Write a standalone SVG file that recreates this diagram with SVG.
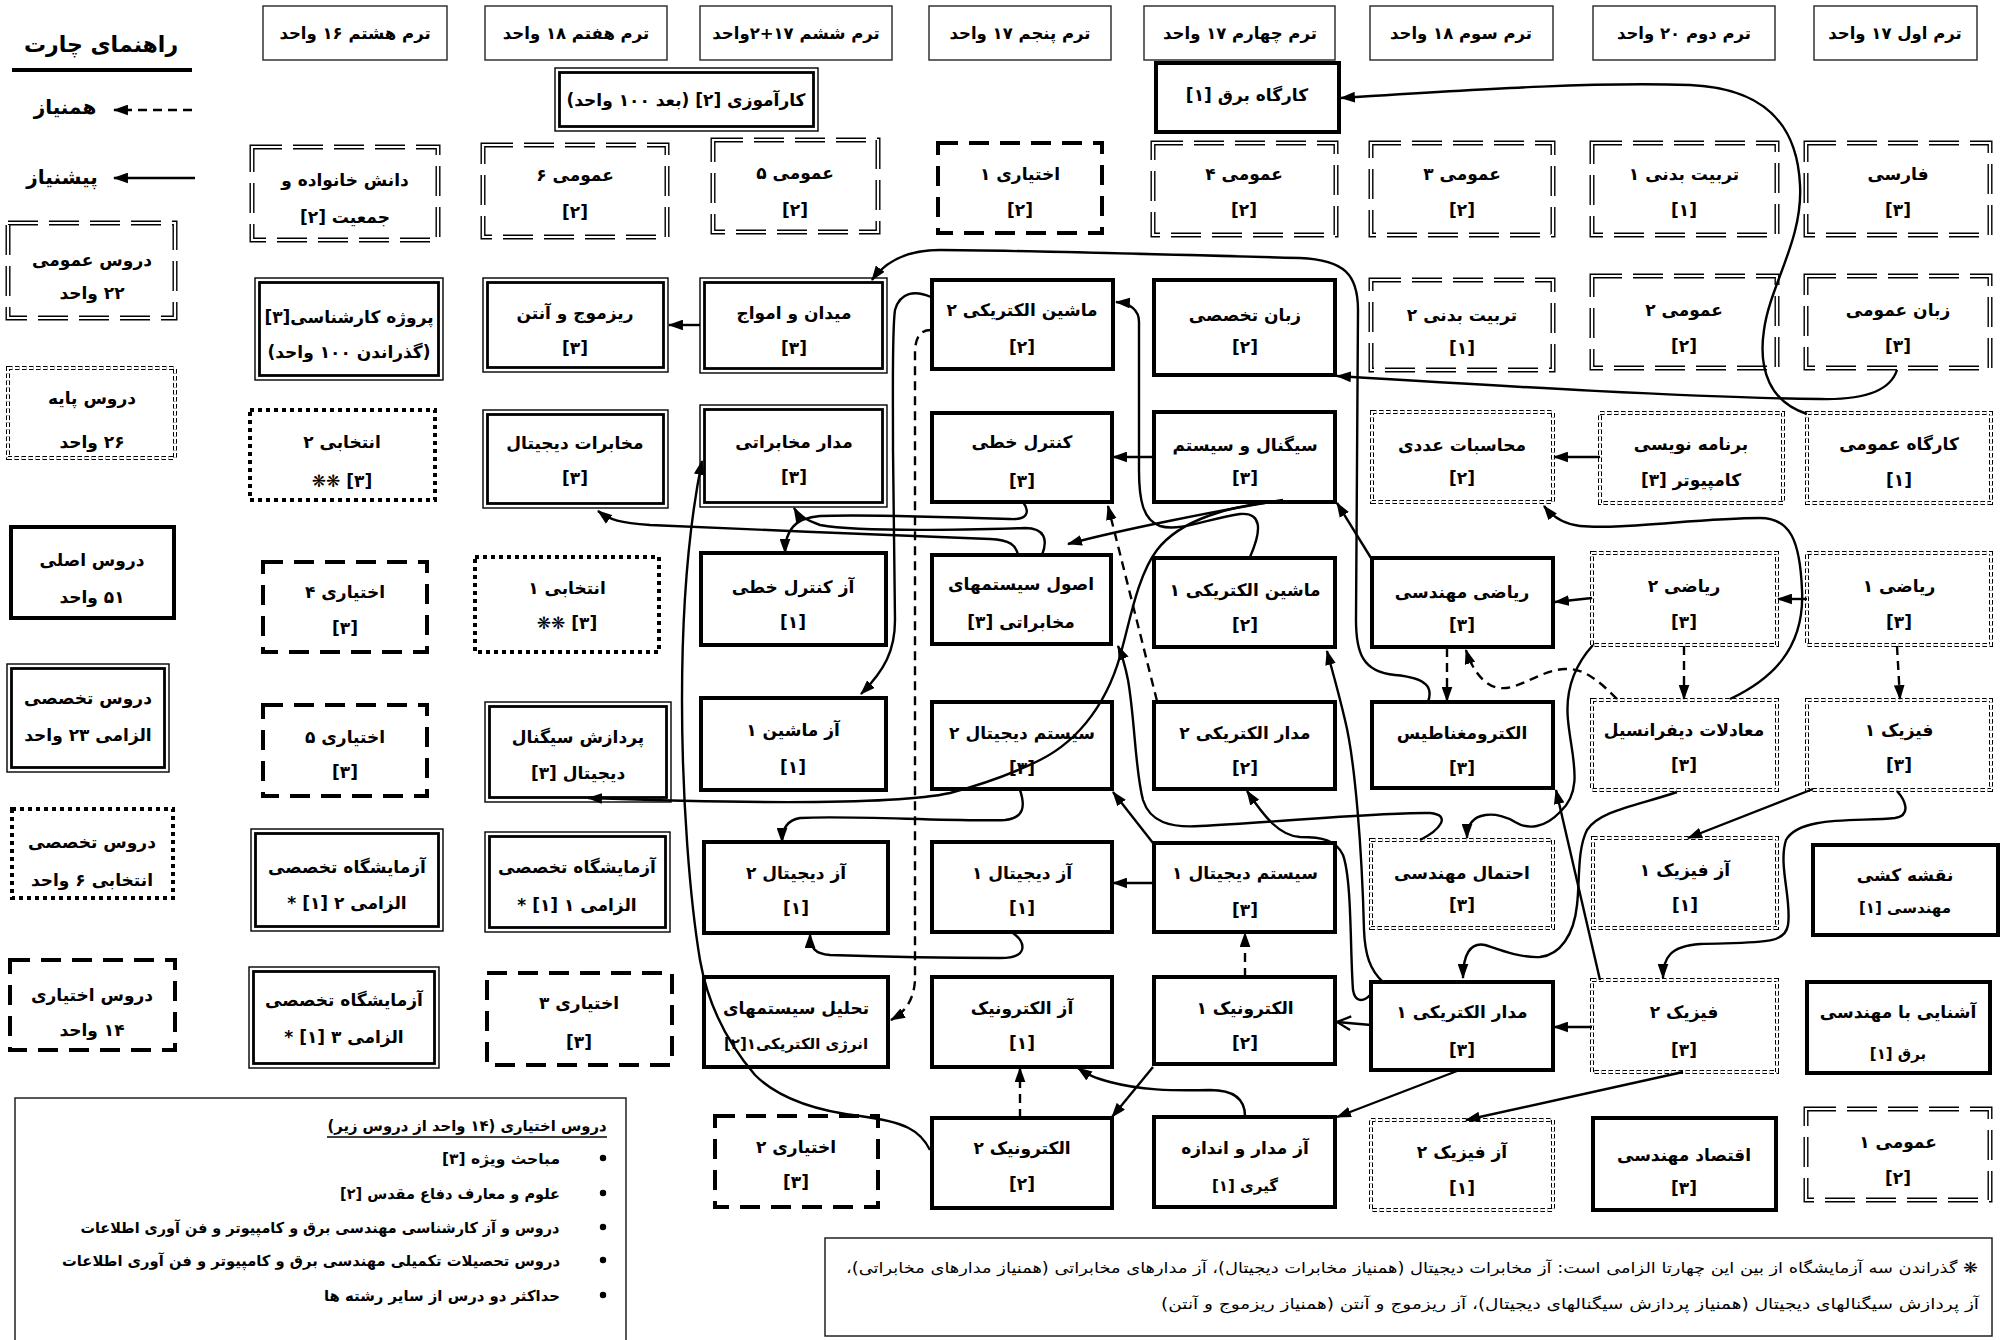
<svg xmlns="http://www.w3.org/2000/svg" width="2011" height="1340" viewBox="0 0 2011 1340">
<style>
text{font-family:"DejaVu Sans",sans-serif;font-weight:bold;direction:rtl;fill:#000}
.t{font-size:17px;text-anchor:middle}
.s{font-size:15px;text-anchor:middle}
.h{font-size:16.5px;text-anchor:middle}
.lg{font-size:17px;text-anchor:middle}
.n{font-size:15px;font-weight:normal;text-anchor:middle}
.hdr{fill:#fff;stroke:#333;stroke-width:1.5}
.main{fill:#fff;stroke:#000;stroke-width:4}
.spo{fill:#fff;stroke:#000;stroke-width:1.4}
.spi{fill:none;stroke:#000;stroke-width:2.8}
.gb{fill:#fff;stroke:#000;stroke-width:5;stroke-dasharray:30 11}
.gw{fill:none;stroke:#fff;stroke-width:2.2;stroke-dasharray:30 11}
.bb{fill:#fff;stroke:#000;stroke-width:4;stroke-dasharray:4.5 2.5}
.bw{fill:none;stroke:#fff;stroke-width:2;stroke-dasharray:4.5 2.5}
.sel{fill:#fff;stroke:#000;stroke-width:4;stroke-dasharray:4 4}
.ele{fill:#fff;stroke:#000;stroke-width:4;stroke-dasharray:20 11}
.e{fill:none;stroke:#000;stroke-width:2.4;marker-end:url(#ar)}
.d{stroke-dasharray:9 6}
.o{marker-end:url(#ao)}
.box{fill:#fff;stroke:#222;stroke-width:1.5}
</style>
<defs>
<marker id="ar" viewBox="0 0 14 10" refX="13" refY="5" markerWidth="15" markerHeight="11" markerUnits="userSpaceOnUse" orient="auto"><path d="M0,0 L14,5 L0,10 z" fill="#000"/></marker>
<marker id="ao" viewBox="0 0 14 14" refX="13" refY="7" markerWidth="16" markerHeight="16" markerUnits="userSpaceOnUse" orient="auto"><path d="M1,1 L13,7 L1,13" fill="none" stroke="#000" stroke-width="2"/></marker>
</defs>
<rect x="0" y="0" width="2011" height="1340" fill="#fff"/>

<!-- Legend -->
<g id="legend">
<text x="101" y="52" style="font-size:22px;text-anchor:middle">راهنمای چارت</text>
<line x1="12" y1="70" x2="192" y2="70" stroke="#000" stroke-width="4"/>
<text x="65" y="114" style="font-size:20px;text-anchor:middle">همنیاز</text>
<path d="M192,110 L114,110" class="e d"/>
<text x="62" y="184" style="font-size:20px;text-anchor:middle">پیشنیاز</text>
<path d="M195,178 L114,178" class="e"/>
<g id="lg-general"><rect class="gb" x="8" y="223" width="167" height="95"/><rect class="gw" x="8" y="223" width="167" height="95"/><text class="lg" x="92" y="266">دروس عمومی</text><text class="lg" x="92" y="299">۲۲ واحد</text></g>
<g id="lg-basic"><rect class="bb" x="8" y="368" width="167" height="90"/><rect class="bw" x="8" y="368" width="167" height="90"/><text class="lg" x="92" y="404">دروس پایه</text><text class="lg" x="92" y="448">۲۶ واحد</text></g>
<g id="lg-main"><rect class="main" x="11" y="527" width="163" height="91"/><text class="lg" x="92" y="566">دروس اصلی</text><text class="lg" x="92" y="603">۵۱ واحد</text></g>
<g id="lg-spec"><rect class="spo" x="7" y="664" width="162" height="108"/><rect class="spi" x="11.5" y="668.5" width="153" height="99"/><text class="lg" x="88" y="704">دروس تخصصی</text><text class="lg" x="88" y="741">الزامی ۲۳ واحد</text></g>
<g id="lg-select"><rect class="sel" x="12" y="809" width="161" height="89"/><text class="lg" x="92" y="848">دروس تخصصی</text><text class="lg" x="92" y="886">انتخابی ۶ واحد</text></g>
<g id="lg-elective"><rect class="ele" x="10" y="960" width="165" height="90"/><text class="lg" x="92" y="1001">دروس اختیاری</text><text class="lg" x="92" y="1036">۱۴ واحد</text></g>
</g>

<!-- Term headers -->
<g id="terms">
<g id="term8"><rect class="hdr" x="263" y="6" width="184" height="54"/><text class="h" x="355" y="39">ترم هشتم ۱۶ واحد</text></g>
<g id="term7"><rect class="hdr" x="485" y="6" width="182" height="54"/><text class="h" x="576" y="39">ترم هفتم ۱۸ واحد</text></g>
<g id="term6"><rect class="hdr" x="700" y="6" width="192" height="54"/><text class="h" x="796" y="39">ترم ششم ۱۷+۲واحد</text></g>
<g id="term5"><rect class="hdr" x="929" y="6" width="182" height="54"/><text class="h" x="1020" y="39">ترم پنجم ۱۷ واحد</text></g>
<g id="term4"><rect class="hdr" x="1144" y="6" width="191" height="54"/><text class="h" x="1240" y="39">ترم چهارم ۱۷ واحد</text></g>
<g id="term3"><rect class="hdr" x="1370" y="6" width="183" height="54"/><text class="h" x="1461" y="39">ترم سوم ۱۸ واحد</text></g>
<g id="term2"><rect class="hdr" x="1593" y="6" width="182" height="54"/><text class="h" x="1684" y="39">ترم دوم ۲۰ واحد</text></g>
<g id="term1"><rect class="hdr" x="1814" y="6" width="163" height="54"/><text class="h" x="1895" y="39">ترم اول ۱۷ واحد</text></g>
</g>

<!-- Column 1 -->
<g id="n-farsi"><rect class="gb" x="1806" y="143" width="184" height="92"/><rect class="gw" x="1806" y="143" width="184" height="92"/><text class="t" x="1898" y="180">فارسی</text><text class="t" x="1898" y="216">[۳]</text></g>
<g id="n-zaban-omoomi"><rect class="gb" x="1806" y="276" width="184" height="92"/><rect class="gw" x="1806" y="276" width="184" height="92"/><text class="t" x="1898" y="316">زبان عمومی</text><text class="t" x="1898" y="352">[۳]</text></g>
<g id="n-kargah-omoomi"><rect class="bb" x="1807" y="413" width="184" height="90"/><rect class="bw" x="1807" y="413" width="184" height="90"/><text class="t" x="1899" y="450">کارگاه عمومی</text><text class="t" x="1899" y="486">[۱]</text></g>
<g id="n-riazi1"><rect class="bb" x="1807" y="553" width="184" height="92"/><rect class="bw" x="1807" y="553" width="184" height="92"/><text class="t" x="1899" y="592">ریاضی ۱</text><text class="t" x="1899" y="628">[۳]</text></g>
<g id="n-fizik1"><rect class="bb" x="1807" y="700" width="184" height="90"/><rect class="bw" x="1807" y="700" width="184" height="90"/><text class="t" x="1899" y="736">فیزیک ۱</text><text class="t" x="1899" y="771">[۳]</text></g>
<g id="n-naghshe"><rect class="main" x="1813" y="845" width="185" height="90"/><text class="t" x="1905" y="881">نقشه کشی</text><text class="s" x="1905" y="913">مهندسی [۱]</text></g>
<g id="n-ashnaei"><rect class="main" x="1807" y="982" width="183" height="91"/><text class="t" x="1898" y="1018">آشنایی با مهندسی</text><text class="s" x="1898" y="1059">برق [۱]</text></g>
<g id="n-omoomi1"><rect class="gb" x="1806" y="1109" width="184" height="91"/><rect class="gw" x="1806" y="1109" width="184" height="91"/><text class="t" x="1898" y="1148">عمومی ۱</text><text class="t" x="1898" y="1184">[۲]</text></g>

<!-- Column 2 -->
<g id="n-tarbiat1"><rect class="gb" x="1592" y="143" width="185" height="92"/><rect class="gw" x="1592" y="143" width="185" height="92"/><text class="t" x="1684" y="180">تربیت بدنی ۱</text><text class="t" x="1684" y="216">[۱]</text></g>
<g id="n-omoomi2"><rect class="gb" x="1592" y="276" width="185" height="92"/><rect class="gw" x="1592" y="276" width="185" height="92"/><text class="t" x="1684" y="316">عمومی ۲</text><text class="t" x="1684" y="352">[۲]</text></g>
<g id="n-barname"><rect class="bb" x="1600" y="413" width="183" height="90"/><rect class="bw" x="1600" y="413" width="183" height="90"/><text class="t" x="1691" y="450">برنامه نویسی</text><text class="t" x="1691" y="486">کامپیوتر [۳]</text></g>
<g id="n-riazi2"><rect class="bb" x="1592" y="553" width="185" height="92"/><rect class="bw" x="1592" y="553" width="185" height="92"/><text class="t" x="1684" y="592">ریاضی ۲</text><text class="t" x="1684" y="628">[۳]</text></g>
<g id="n-moadelat"><rect class="bb" x="1592" y="700" width="185" height="90"/><rect class="bw" x="1592" y="700" width="185" height="90"/><text class="t" x="1684" y="736">معادلات دیفرانسیل</text><text class="t" x="1684" y="771">[۳]</text></g>
<g id="n-azfizik1"><rect class="bb" x="1593" y="838" width="184" height="90"/><rect class="bw" x="1593" y="838" width="184" height="90"/><text class="t" x="1685" y="876">آز فیزیک ۱</text><text class="t" x="1685" y="911">[۱]</text></g>
<g id="n-fizik2"><rect class="bb" x="1592" y="980" width="185" height="92"/><rect class="bw" x="1592" y="980" width="185" height="92"/><text class="t" x="1684" y="1018">فیزیک ۲</text><text class="t" x="1684" y="1056">[۳]</text></g>
<g id="n-eghtesad"><rect class="main" x="1593" y="1118" width="183" height="92"/><text class="t" x="1684" y="1161">اقتصاد مهندسی</text><text class="t" x="1684" y="1194">[۳]</text></g>

<!-- Column 3 -->
<g id="n-omoomi3"><rect class="gb" x="1371" y="143" width="182" height="92"/><rect class="gw" x="1371" y="143" width="182" height="92"/><text class="t" x="1462" y="180">عمومی ۳</text><text class="t" x="1462" y="216">[۲]</text></g>
<g id="n-tarbiat2"><rect class="gb" x="1371" y="280" width="182" height="90"/><rect class="gw" x="1371" y="280" width="182" height="90"/><text class="t" x="1462" y="321">تربیت بدنی ۲</text><text class="t" x="1462" y="354">[۱]</text></g>
<g id="n-mohasebat"><rect class="bb" x="1372" y="412" width="181" height="90"/><rect class="bw" x="1372" y="412" width="181" height="90"/><text class="t" x="1462" y="451">محاسبات عددی</text><text class="t" x="1462" y="484">[۲]</text></g>
<g id="n-riazi-mohandesi"><rect class="main" x="1372" y="558" width="181" height="89"/><text class="t" x="1462" y="598">ریاضی مهندسی</text><text class="t" x="1462" y="631">[۳]</text></g>
<g id="n-electromag"><rect class="main" x="1372" y="702" width="181" height="86"/><text class="t" x="1462" y="739">الکترومغناطیس</text><text class="t" x="1462" y="774">[۳]</text></g>
<g id="n-ehtemal"><rect class="bb" x="1371" y="840" width="182" height="88"/><rect class="bw" x="1371" y="840" width="182" height="88"/><text class="t" x="1462" y="879">احتمال مهندسی</text><text class="t" x="1462" y="911">[۳]</text></g>
<g id="n-madar1"><rect class="main" x="1371" y="982" width="182" height="88"/><text class="t" x="1462" y="1018">مدار الکتریکی ۱</text><text class="t" x="1462" y="1056">[۳]</text></g>
<g id="n-azfizik2"><rect class="bb" x="1371" y="1120" width="182" height="90"/><rect class="bw" x="1371" y="1120" width="182" height="90"/><text class="t" x="1462" y="1158">آز فیزیک ۲</text><text class="t" x="1462" y="1194">[۱]</text></g>

<!-- Column 4 -->
<g id="n-kargah-bargh"><rect class="main" x="1156" y="63" width="183" height="69"/><text class="t" x="1247" y="101">کارگاه برق  [۱]</text></g>
<g id="n-omoomi4"><rect class="gb" x="1153" y="143" width="183" height="92"/><rect class="gw" x="1153" y="143" width="183" height="92"/><text class="t" x="1244" y="180">عمومی ۴</text><text class="t" x="1244" y="216">[۲]</text></g>
<g id="n-zaban-takhassosi"><rect class="main" x="1154" y="280" width="181" height="95"/><text class="t" x="1245" y="321">زبان تخصصی</text><text class="t" x="1245" y="353">[۲]</text></g>
<g id="n-signal"><rect class="main" x="1154" y="412" width="181" height="90"/><text class="t" x="1245" y="451">سیگنال و سیستم</text><text class="t" x="1245" y="484">[۳]</text></g>
<g id="n-mashin1"><rect class="main" x="1154" y="558" width="181" height="89"/><text class="t" x="1245" y="596">ماشین الکتریکی ۱</text><text class="t" x="1245" y="631">[۲]</text></g>
<g id="n-madar2"><rect class="main" x="1154" y="702" width="181" height="87"/><text class="t" x="1245" y="739">مدار الکتریکی ۲</text><text class="t" x="1245" y="774">[۲]</text></g>
<g id="n-digital1"><rect class="main" x="1154" y="843" width="181" height="89"/><text class="t" x="1245" y="879">سیستم دیجیتال ۱</text><text class="t" x="1245" y="916">[۳]</text></g>
<g id="n-electronic1"><rect class="main" x="1154" y="977" width="181" height="87"/><text class="t" x="1245" y="1014">الکترونیک ۱</text><text class="t" x="1245" y="1049">[۲]</text></g>
<g id="n-azmadar"><rect class="main" x="1154" y="1117" width="181" height="90"/><text class="t" x="1245" y="1154">آز مدار و اندازه</text><text class="s" x="1245" y="1191">گیری [۱]</text></g>

<!-- Column 5 -->
<g id="n-ekhtiari1"><rect class="ele" x="938" y="143" width="164" height="90"/><text class="t" x="1020" y="180">اختیاری ۱</text><text class="t" x="1020" y="216">[۲]</text></g>
<g id="n-mashin2"><rect class="main" x="932" y="280" width="181" height="89"/><text class="t" x="1022" y="316">ماشین الکتریکی ۲</text><text class="t" x="1022" y="353">[۲]</text></g>
<g id="n-control"><rect class="main" x="932" y="413" width="180" height="89"/><text class="t" x="1022" y="448">کنترل خطی</text><text class="t" x="1022" y="487">[۳]</text></g>
<g id="n-osool"><rect class="main" x="932" y="555" width="179" height="89"/><text class="t" x="1021" y="590">اصول سیستمهای</text><text class="t" x="1021" y="628">مخابراتی [۳]</text></g>
<g id="n-digital2"><rect class="main" x="932" y="702" width="180" height="87"/><text class="t" x="1022" y="739">سیستم دیجیتال ۲</text><text class="t" x="1022" y="774">[۳]</text></g>
<g id="n-azdigital1"><rect class="main" x="932" y="842" width="180" height="90"/><text class="t" x="1022" y="879">آز دیجیتال ۱</text><text class="t" x="1022" y="914">[۱]</text></g>
<g id="n-azelectronic"><rect class="main" x="932" y="977" width="180" height="90"/><text class="t" x="1022" y="1014">آز الکترونیک</text><text class="t" x="1022" y="1049">[۱]</text></g>
<g id="n-electronic2"><rect class="main" x="932" y="1118" width="180" height="90"/><text class="t" x="1022" y="1154">الکترونیک ۲</text><text class="t" x="1022" y="1190">[۲]</text></g>

<!-- Column 6 -->
<g id="n-karamoozi"><rect class="spo" x="555" y="68" width="263" height="63"/><rect class="spi" x="559.5" y="72.5" width="254" height="54"/><text class="t" x="686" y="106">کارآموزی [۲] (بعد ۱۰۰ واحد)</text></g>
<g id="n-omoomi5"><rect class="gb" x="713" y="140" width="165" height="92"/><rect class="gw" x="713" y="140" width="165" height="92"/><text class="t" x="795" y="179">عمومی ۵</text><text class="t" x="795" y="216">[۲]</text></g>
<g id="n-meydan"><rect class="spo" x="700" y="278" width="187" height="95"/><rect class="spi" x="704.5" y="282.5" width="178" height="86"/><text class="t" x="794" y="319">میدان و امواج</text><text class="t" x="794" y="354">[۳]</text></g>
<g id="n-madar-mokhaberati"><rect class="spo" x="700" y="405" width="187" height="102"/><rect class="spi" x="704.5" y="409.5" width="178" height="93"/><text class="t" x="794" y="448">مدار مخابراتی</text><text class="t" x="794" y="483">[۳]</text></g>
<g id="n-azcontrol"><rect class="main" x="701" y="553" width="185" height="92"/><text class="t" x="793" y="593">آز کنترل خطی</text><text class="t" x="793" y="628">[۱]</text></g>
<g id="n-azmashin1"><rect class="main" x="701" y="698" width="185" height="92"/><text class="t" x="793" y="736">آز ماشین ۱</text><text class="t" x="793" y="773">[۱]</text></g>
<g id="n-azdigital2"><rect class="main" x="704" y="842" width="184" height="91"/><text class="t" x="796" y="879">آز دیجیتال ۲</text><text class="t" x="796" y="914">[۱]</text></g>
<g id="n-energy"><rect class="main" x="704" y="977" width="184" height="90"/><text class="t" x="796" y="1014">تحلیل سیستمهای</text><text class="s" x="796" y="1049">انرژی الکتریکی۱[۲]</text></g>
<g id="n-ekhtiari2"><rect class="ele" x="715" y="1116" width="163" height="91"/><text class="t" x="796" y="1153">اختیاری ۲</text><text class="t" x="796" y="1188">[۳]</text></g>

<!-- Column 7 -->
<g id="n-omoomi6"><rect class="gb" x="483" y="145" width="184" height="92"/><rect class="gw" x="483" y="145" width="184" height="92"/><text class="t" x="575" y="181">عمومی ۶</text><text class="t" x="575" y="218">[۲]</text></g>
<g id="n-rizmoj"><rect class="spo" x="483" y="278" width="185" height="94"/><rect class="spi" x="487.5" y="282.5" width="176" height="85"/><text class="t" x="575" y="319">ریزموج و آنتن</text><text class="t" x="575" y="354">[۳]</text></g>
<g id="n-mokhaberat-digital"><rect class="spo" x="483" y="410" width="185" height="98"/><rect class="spi" x="487.5" y="414.5" width="176" height="89"/><text class="t" x="575" y="449">مخابرات دیجیتال</text><text class="t" x="575" y="484">[۳]</text></g>
<g id="n-entekhabi1"><rect class="sel" x="475" y="557" width="184" height="95"/><text class="t" x="567" y="594">انتخابی ۱</text><text class="t" x="567" y="629">[۳] ❋❋</text></g>
<g id="n-pardazesh"><rect class="spo" x="485" y="702" width="186" height="100"/><rect class="spi" x="489.5" y="706.5" width="177" height="91"/><text class="t" x="578" y="743">پردازش سیگنال</text><text class="t" x="578" y="779">دیجیتال [۳]</text></g>
<g id="n-lab1"><rect class="spo" x="485" y="832" width="185" height="100"/><rect class="spi" x="489.5" y="836.5" width="176" height="91"/><text class="t" x="577" y="873">آزمایشگاه تخصصی</text><text class="t" x="577" y="911">الزامی ۱ [۱] *</text></g>
<g id="n-ekhtiari3"><rect class="ele" x="487" y="973" width="185" height="92"/><text class="t" x="579" y="1009">اختیاری ۳</text><text class="t" x="579" y="1048">[۳]</text></g>

<!-- Column 8 -->
<g id="n-danesh"><rect class="gb" x="252" y="147" width="186" height="93"/><rect class="gw" x="252" y="147" width="186" height="93"/><text class="t" x="345" y="186">دانش خانواده و</text><text class="t" x="345" y="223">جمعیت [۲]</text></g>
<g id="n-project"><rect class="spo" x="255" y="278" width="188" height="102"/><rect class="spi" x="259.5" y="282.5" width="179" height="93"/><text class="t" x="349" y="323">پروژه کارشناسی[۳]</text><text class="t" x="349" y="358">(گذراندن ۱۰۰ واحد)</text></g>
<g id="n-entekhabi2"><rect class="sel" x="250" y="410" width="185" height="90"/><text class="t" x="342" y="448">انتخابی ۲</text><text class="t" x="342" y="487">[۳] ❋❋</text></g>
<g id="n-ekhtiari4"><rect class="ele" x="263" y="562" width="164" height="90"/><text class="t" x="345" y="598">اختیاری ۴</text><text class="t" x="345" y="634">[۳]</text></g>
<g id="n-ekhtiari5"><rect class="ele" x="263" y="705" width="164" height="91"/><text class="t" x="345" y="743">اختیاری ۵</text><text class="t" x="345" y="778">[۳]</text></g>
<g id="n-lab2"><rect class="spo" x="251" y="829" width="192" height="102"/><rect class="spi" x="255.5" y="833.5" width="183" height="93"/><text class="t" x="347" y="873">آزمایشگاه تخصصی</text><text class="t" x="347" y="909">الزامی ۲ [۱] *</text></g>
<g id="n-lab3"><rect class="spo" x="249" y="967" width="190" height="101"/><rect class="spi" x="253.5" y="971.5" width="181" height="92"/><text class="t" x="344" y="1006">آزمایشگاه تخصصی</text><text class="t" x="344" y="1043">الزامی ۳ [۱] *</text></g>

<!-- Bottom notes -->
<g id="electives-list">
<rect class="box" x="15" y="1098" width="611" height="250"/>
<text x="467" y="1131" style="font-size:15px;text-anchor:middle" textLength="279" lengthAdjust="spacingAndGlyphs">دروس اختیاری (۱۴ واحد از دروس زیر)</text>
<line x1="327" y1="1137" x2="607" y2="1137" stroke="#000" stroke-width="1.3"/>
<circle cx="603" cy="1158" r="3.2"/><text x="501" y="1164" style="font-size:15px;text-anchor:middle" textLength="118" lengthAdjust="spacingAndGlyphs">مباحث ویژه [۳]</text>
<circle cx="603" cy="1193" r="3.2"/><text x="450" y="1199" style="font-size:15px;text-anchor:middle" textLength="220" lengthAdjust="spacingAndGlyphs">علوم و معارف دفاع مقدس [۲]</text>
<circle cx="603" cy="1227" r="3.2"/><text x="320" y="1233" style="font-size:15px;text-anchor:middle" textLength="479" lengthAdjust="spacingAndGlyphs">دروس و آز کارشناسی مهندسی برق و کامپیوتر و فن آوری اطلاعات</text>
<circle cx="603" cy="1260" r="3.2"/><text x="311" y="1266" style="font-size:15px;text-anchor:middle" textLength="498" lengthAdjust="spacingAndGlyphs">دروس تحصیلات تکمیلی مهندسی برق و کامپیوتر و فن آوری اطلاعات</text>
<circle cx="603" cy="1295" r="3.2"/><text x="442" y="1301" style="font-size:15px;text-anchor:middle" textLength="236" lengthAdjust="spacingAndGlyphs">حداکثر دو درس از سایر رشته ها</text>
</g>
<g id="lab-note">
<rect class="box" x="825" y="1238" width="1167" height="98"/>
<text class="n" x="1412" y="1273" textLength="1132" lengthAdjust="spacingAndGlyphs">❋ گذراندن سه آزمایشگاه از بین این چهارتا الزامی است: آز مخابرات دیجیتال (همنیاز مخابرات دیجیتال)، آز مدارهای مخابراتی (همنیاز مدارهای مخابراتی)،</text>
<text class="n" x="1570" y="1309" textLength="818" lengthAdjust="spacingAndGlyphs">آز پردازش سیگنالهای دیجیتال (همنیاز پردازش سیگنالهای دیجیتال)، آز ریزموج و آنتن (همنیاز ریزموج و آنتن)</text>
</g>

<!-- Connectors -->
<g id="connectors">
<path class="e" d="M1807,414 C1770,402 1758,370 1764,330 C1770,285 1803,240 1800,185 C1797,120 1760,88 1690,85 C1600,82 1500,88 1341,98"/>
<path class="e" d="M1897,370 C1890,392 1860,400 1820,399 C1700,398 1500,386 1337,376"/>
<path class="e" d="M1428,702 C1433,688 1428,678 1395,675 C1362,672 1356,652 1356,620 L1358,310 C1358,275 1345,260 1300,258 C1150,254 1000,250 940,250 C905,250 885,262 872,280"/>
<path class="e" d="M1153,457 L1113,457"/>
<path class="e" d="M1250,557 C1262,530 1262,512 1240,514 C1210,518 1180,532 1160,526 C1143,520 1139,500 1139,470 L1139,322 C1139,310 1130,303 1116,302"/>
<path class="e" d="M1600,457 L1554,457"/>
<path class="e" d="M1807,599 L1778,599"/>
<path class="e" d="M1592,598 L1555,602"/>
<path class="e d" d="M1897,646 L1900,699"/>
<path class="e d" d="M1684,646 L1684,699"/>
<path class="e" d="M1730,699 C1770,680 1805,650 1802,590 C1800,540 1790,518 1760,518 C1700,518 1620,530 1580,526 C1562,524 1552,516 1544,506"/>
<path class="e" d="M1593,645 C1575,665 1565,690 1568,720 C1571,755 1585,790 1560,812 C1545,828 1528,830 1515,822 C1500,812 1467,808 1467,838"/>
<path class="e d" d="M1617,699 C1600,682 1585,668 1565,669 C1540,670 1520,690 1500,688 C1485,687 1472,670 1466,650"/>
<path class="e d" d="M1447,648 L1447,701"/>
<path class="e" d="M1813,789 L1688,838"/>
<path class="e" d="M1897,791 C1905,800 1912,815 1895,818 C1860,822 1800,815 1786,840 C1778,865 1792,900 1788,925 C1785,945 1760,942 1700,944 C1670,946 1663,958 1663,978"/>
<path class="e" d="M1592,1027 L1554,1027"/>
<path class="e" d="M1683,1072 L1466,1120"/>
<path class="e" d="M1600,980 L1556,790"/>
<path class="e o" d="M1371,1025 L1337,1022"/>
<path class="e" d="M1457,1071 L1337,1117"/>
<path class="e d" d="M1245,977 L1245,933"/>
<path class="e" d="M1153,1067 L1112,1117"/>
<path class="e" d="M1245,1116 C1245,1100 1235,1090 1210,1090 C1170,1091 1140,1090 1110,1082 C1095,1078 1088,1075 1078,1068"/>
<path class="e d" d="M1020,1118 L1020,1068"/>
<path class="e" d="M1153,883 L1113,883"/>
<path class="e" d="M1153,843 L1113,792"/>
<path class="e" d="M1371,994 C1363,1003 1355,1002 1353,990 C1350,950 1352,880 1343,855 C1336,840 1322,837 1300,837 C1280,836 1265,818 1247,791"/>
<path class="e" d="M1383,982 C1370,970 1365,955 1364,930 C1362,850 1355,760 1345,720 C1338,690 1332,670 1327,651"/>
<path class="e" d="M1677,792 C1640,805 1600,810 1587,830 C1577,850 1580,880 1577,905 C1574,935 1560,955 1540,957 C1520,958 1500,950 1485,945 C1470,942 1463,955 1463,978"/>
<path class="e" d="M1420,840 C1440,830 1452,815 1430,813 C1380,812 1280,822 1200,826 C1170,828 1150,822 1143,800 C1135,770 1135,720 1128,680 C1125,665 1122,655 1118,646"/>
<path class="e d" d="M1157,701 L1108,506"/>
<path class="e" d="M1283,500 C1220,510 1120,530 1068,544"/>
<path class="e" d="M1283,501 C1230,505 1180,520 1157,550 C1138,575 1130,620 1123,645 C1110,700 1080,740 1040,760 C1010,775 980,785 950,793 C900,804 760,804 588,798"/>
<path class="e" d="M1018,555 C1016,545 1010,540 990,539 C900,535 750,530 650,525 C620,523 610,520 598,511"/>
<path class="e" d="M1042,555 C1048,540 1045,528 1025,528 C960,530 860,532 820,525 C805,520 798,515 794,508"/>
<path class="e" d="M1023,502 C1030,512 1028,520 1010,519 C950,517 860,514 820,516 C795,518 785,530 785,553"/>
<path class="e" d="M931,297 C915,290 900,292 895,310 C892,330 893,380 893,450 L895,620 C895,650 885,670 861,694"/>
<path class="e d" d="M931,330 C922,330 916,335 915,350 L915,980 C914,1000 905,1012 891,1020"/>
<path class="e" d="M930,1150 C920,1130 905,1122 860,1116 C810,1110 775,1095 755,1075 C725,1040 707,1000 700,960 C690,900 682,800 682,700 C682,600 690,520 702,461"/>
<path class="e" d="M1020,790 C1025,805 1025,818 1005,820 C950,822 850,815 800,818 C788,820 782,828 782,842"/>
<path class="e" d="M1013,933 C1025,942 1030,958 1000,958 C950,958 860,956 830,955 C815,954 810,948 810,934"/>
<path class="e" d="M700,325 L669,325"/>
<path class="e" d="M1371,558 L1337,503"/>
</g>
</svg>
